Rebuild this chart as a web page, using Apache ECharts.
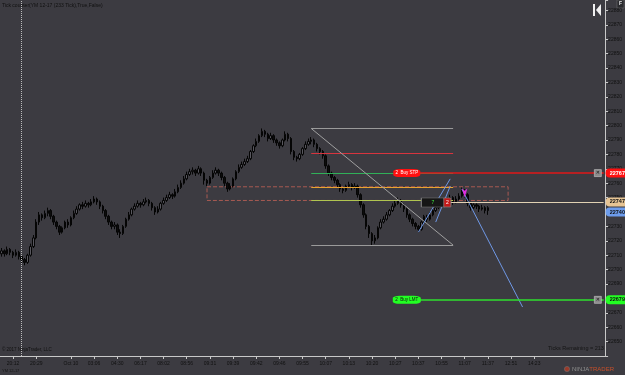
<!DOCTYPE html>
<html>
<head>
<meta charset="utf-8">
<title>YM 12-17 (233 Tick)</title>
<script src="https://cdn.jsdelivr.net/npm/echarts@6/dist/echarts.min.js"></script>
<style>
  html, body { margin: 0; padding: 0; background: #3c3b41; }
  #chart { width: 625px; height: 375px; }
</style>
</head>
<body>
<div id="chart"></div>
<script>
// 233 tick bars, each row: [open, close, low, high]
const bars = [
  [22711, 22713, 22709, 22715], [22713, 22711, 22709, 22714], [22711, 22714, 22710, 22716], [22714, 22712, 22710, 22715],
  [22712, 22710, 22708, 22713], [22710, 22712, 22709, 22714], [22712, 22709, 22707, 22713], [22709, 22707, 22704, 22710],
  [22707, 22705, 22703, 22708], [22705, 22710, 22704, 22711], [22710, 22716, 22709, 22718], [22716, 22722, 22715, 22724],
  [22722, 22733, 22721, 22735], [22733, 22738, 22731, 22740], [22738, 22736, 22734, 22739], [22736, 22739, 22735, 22741],
  [22739, 22741, 22737, 22743], [22741, 22737, 22735, 22742], [22737, 22733, 22731, 22738], [22733, 22730, 22728, 22734],
  [22730, 22726, 22724, 22731], [22726, 22729, 22725, 22730], [22729, 22733, 22728, 22734], [22733, 22731, 22729, 22735],
  [22731, 22736, 22730, 22737], [22736, 22739, 22735, 22741], [22739, 22742, 22738, 22744], [22742, 22745, 22741, 22746],
  [22745, 22744, 22742, 22747], [22744, 22746, 22743, 22748], [22746, 22745, 22743, 22747], [22745, 22747, 22744, 22749],
  [22747, 22749, 22746, 22751], [22749, 22747, 22745, 22750], [22747, 22744, 22742, 22748], [22744, 22741, 22739, 22745],
  [22741, 22737, 22735, 22742], [22737, 22733, 22731, 22738], [22733, 22730, 22728, 22734], [22730, 22731, 22728, 22733],
  [22731, 22726, 22724, 22732], [22726, 22725, 22722, 22728], [22725, 22730, 22724, 22731], [22730, 22735, 22729, 22736],
  [22735, 22738, 22734, 22740], [22738, 22742, 22737, 22743], [22742, 22744, 22741, 22746], [22744, 22746, 22743, 22748],
  [22746, 22745, 22743, 22747], [22745, 22747, 22744, 22749], [22747, 22748, 22746, 22750], [22748, 22746, 22744, 22749],
  [22746, 22743, 22741, 22747], [22743, 22740, 22738, 22744], [22740, 22742, 22739, 22744], [22742, 22746, 22741, 22747],
  [22746, 22748, 22745, 22750], [22748, 22750, 22747, 22752], [22750, 22752, 22749, 22754], [22752, 22751, 22749, 22753],
  [22751, 22754, 22750, 22756], [22754, 22757, 22753, 22759], [22757, 22760, 22756, 22762], [22760, 22763, 22759, 22765],
  [22763, 22766, 22762, 22768], [22766, 22768, 22765, 22770], [22768, 22769, 22766, 22771], [22769, 22767, 22765, 22770],
  [22767, 22770, 22766, 22772], [22770, 22767, 22765, 22771], [22767, 22762, 22759, 22768], [22762, 22760, 22758, 22763],
  [22760, 22764, 22759, 22765], [22764, 22767, 22763, 22769], [22767, 22769, 22766, 22771], [22769, 22767, 22765, 22770],
  [22767, 22764, 22762, 22768], [22764, 22760, 22758, 22765], [22760, 22756, 22754, 22761], [22756, 22758, 22755, 22760],
  [22758, 22763, 22757, 22764], [22763, 22768, 22762, 22769], [22768, 22771, 22767, 22773], [22771, 22773, 22770, 22775],
  [22773, 22775, 22772, 22777], [22775, 22777, 22774, 22779], [22777, 22782, 22776, 22783], [22782, 22786, 22781, 22787],
  [22786, 22789, 22785, 22791], [22789, 22793, 22788, 22794], [22793, 22796, 22792, 22798], [22796, 22794, 22792, 22797],
  [22794, 22791, 22789, 22795], [22791, 22793, 22790, 22795], [22793, 22790, 22788, 22794], [22790, 22788, 22786, 22791],
  [22788, 22786, 22784, 22789], [22786, 22790, 22785, 22791], [22790, 22794, 22789, 22796], [22794, 22791, 22789, 22795],
  [22791, 22782, 22780, 22792], [22782, 22778, 22776, 22783], [22778, 22777, 22775, 22779], [22777, 22780, 22776, 22781],
  [22780, 22784, 22779, 22785], [22784, 22787, 22783, 22789], [22787, 22789, 22786, 22791], [22789, 22790, 22787, 22792],
  [22790, 22787, 22785, 22791], [22787, 22784, 22782, 22788], [22784, 22782, 22780, 22785], [22782, 22779, 22777, 22783],
  [22779, 22772, 22770, 22780], [22772, 22767, 22765, 22773], [22767, 22764, 22762, 22768], [22764, 22762, 22760, 22765],
  [22762, 22759, 22757, 22763], [22759, 22756, 22754, 22760], [22756, 22755, 22753, 22757], [22755, 22758, 22754, 22759],
  [22758, 22759, 22757, 22761], [22759, 22757, 22755, 22760], [22757, 22758, 22756, 22760], [22758, 22752, 22750, 22759],
  [22752, 22745, 22743, 22753], [22745, 22738, 22736, 22746], [22738, 22730, 22728, 22739], [22730, 22725, 22722, 22731],
  [22725, 22720, 22717, 22726], [22720, 22722, 22718, 22724], [22722, 22729, 22721, 22730], [22729, 22733, 22728, 22735],
  [22733, 22735, 22732, 22737], [22735, 22738, 22734, 22740], [22738, 22741, 22737, 22742], [22741, 22744, 22740, 22746],
  [22744, 22746, 22743, 22748], [22746, 22748, 22745, 22750], [22748, 22745, 22743, 22749], [22745, 22742, 22740, 22746],
  [22742, 22738, 22736, 22743], [22738, 22735, 22733, 22739], [22735, 22732, 22730, 22736], [22732, 22730, 22728, 22733],
  [22730, 22728, 22726, 22731], [22728, 22733, 22727, 22734], [22733, 22737, 22732, 22738], [22737, 22735, 22733, 22738],
  [22735, 22738, 22734, 22740], [22738, 22741, 22737, 22742], [22741, 22743, 22740, 22745], [22743, 22745, 22742, 22747],
  [22745, 22748, 22744, 22749], [22748, 22746, 22744, 22749], [22746, 22748, 22745, 22750], [22748, 22750, 22747, 22752],
  [22750, 22747, 22745, 22751], [22747, 22749, 22746, 22751], [22749, 22751, 22748, 22753], [22751, 22755, 22750, 22757],
  [22755, 22752, 22750, 22756], [22752, 22746, 22744, 22753], [22746, 22743, 22741, 22747], [22743, 22745, 22742, 22746],
  [22745, 22744, 22742, 22746], [22744, 22742, 22740, 22745], [22742, 22743, 22741, 22745], [22743, 22741, 22739, 22744],
  [22741, 22743, 22738, 22744]
];

// number of bar slots on the time axis (includes empty space to the right)
const slotCount = 209;

// [slot index, label]
const timeLabels = [
  [4, '20:12'], [12, '20:29'], [24, 'Oct 10'], [32, '03:06'], [40, '04:30'], [48, '06:17'],
  [56, '08:02'], [64, '08:56'], [72, '09:31'], [80, '09:39'], [88, '09:42'], [96, '09:46'],
  [104, '09:55'], [112, '10:07'], [120, '10:13'], [128, '10:20'], [136, '10:27'], [144, '10:37'],
  [152, '10:55'], [160, '11:07'], [168, '11:37'], [176, '12:51'], [184, '14:23']
];

// fibonacci retracement drawn from slot 107 to 156
const fibSlots = [107, 156];
const fibLevels = [22798, 22781, 22767, 22757.5, 22748, 22717];
const fibColors = ['#9a9a9a', '#d8343e', '#30b058', '#e8a430', '#b0c450', '#9a9a9a'];

// dashed zone rectangle: slots and prices
const zoneSlots = [71, 175];
const zonePrices = [22757.5, 22748];

// blue trend lines: [[slot, price], [slot, price]]
const trendLines = [
  [[144, 22726], [155, 22763]],
  [[150, 22733], [155, 22758]],
  [[159, 22756], [180, 22674]]
];

// working orders
const buyStop = 22767;
const buyLimit = 22679;
const avgPrice = 22747;
const lastPrice = 22740;
const sessionBreakSlot = 7;

const categories = [];
for (let i = 0; i < slotCount; i++) categories.push(String(i));
const labelMap = {};
timeLabels.forEach(t => { labelMap[t[0]] = t[1]; });
const showLabel = (index) => labelMap[index] !== undefined;

const font = 'Liberation Sans, Arial, sans-serif';
const lastSlot = slotCount - 1;

const flagLabel = (text, bg, fg) => ({
  show: true,
  position: 'end',
  distance: 2,
  formatter: text,
  backgroundColor: bg,
  color: fg,
  fontSize: 5.5,
  fontWeight: 'bold',
  fontFamily: font,
  padding: [2, 2, 1, 4],
  borderRadius: [4, 1, 1, 4]
});

// two-point segment, each end gets its own copy of the style
const seg = (a, b, color, width, label) => {
  const start = { coord: a, lineStyle: { color: color, width: width, type: 'solid' } };
  const end = { coord: b, lineStyle: { color: color, width: width, type: 'solid' } };
  if (label) { start.label = label; end.label = Object.assign({}, label); }
  return [start, end];
};

const lines = [];
// fib levels + diagonal
fibLevels.forEach((p, i) => {
  lines.push(seg([fibSlots[0], p], [fibSlots[1], p], fibColors[i], 1.2));
});
lines.push(seg([fibSlots[0], fibLevels[0]], [fibSlots[1], fibLevels[5]], '#a0a0a0', 1));
// trend lines
trendLines.forEach(t => {
  lines.push(seg(t[0], t[1], '#6f98e6', 1));
});
// orders and price markers
lines.push(seg([140, buyStop], [lastSlot, buyStop], '#e01818', 1.5, flagLabel(String(buyStop), '#ff1010', '#ffffff')));
lines.push(seg([140, buyLimit], [lastSlot, buyLimit], '#2ee02e', 1.5, flagLabel(String(buyLimit), '#22ff22', '#111111')));
lines.push(seg([155, avgPrice], [lastSlot, avgPrice], '#e2d2b4', 1.2, flagLabel(String(avgPrice), '#e6c494', '#111111')));
lines.push(seg([lastSlot - 1, lastPrice], [lastSlot, lastPrice], 'rgba(0,0,0,0)', 0, flagLabel(String(lastPrice), '#6d9cec', '#111111')));
// session break
lines.push({ xAxis: sessionBreakSlot, lineStyle: { color: '#bdbdbd', type: 'dotted', width: 1 } });

const points = [
  { coord: [140, buyStop], symbol: 'roundRect', symbolSize: [27, 8], itemStyle: { color: '#ff1010' },
    label: { show: true, formatter: '2  Buy STP', color: '#ffffff', fontSize: 4.5, fontFamily: font } },
  { coord: [140, buyLimit], symbol: 'roundRect', symbolSize: [28, 8], itemStyle: { color: '#22ff22' },
    label: { show: true, formatter: '2  Buy LMT', color: '#111111', fontSize: 4.5, fontFamily: font } },
  { coord: [206, buyStop], symbol: 'rect', symbolSize: 7, itemStyle: { color: '#8c8c8c', borderColor: '#dddddd', borderWidth: 0.5 },
    label: { show: true, formatter: '✕', color: '#111111', fontSize: 5, fontFamily: 'DejaVu Sans' } },
  { coord: [206, buyLimit], symbol: 'rect', symbolSize: 7, itemStyle: { color: '#8c8c8c', borderColor: '#dddddd', borderWidth: 0.5 },
    label: { show: true, formatter: '✕', color: '#111111', fontSize: 5, fontFamily: 'DejaVu Sans' } },
  { coord: [149, 22746.6], symbol: 'rect', symbolSize: [23, 9], itemStyle: { color: '#161616', borderColor: '#808080', borderWidth: 0.7 },
    label: { show: true, formatter: '7', color: '#3ee83e', fontSize: 5, fontFamily: font } },
  { coord: [154, 22746.6], symbol: 'rect', symbolSize: [7, 9], itemStyle: { color: '#c41818', borderColor: '#808080', borderWidth: 0.7 },
    label: { show: true, formatter: '2', color: '#ffffff', fontSize: 5, fontFamily: font } },
  { coord: [160, 22750], symbol: 'arrow', symbolRotate: 180, symbolSize: [4, 9], itemStyle: { color: '#e02ee0' },
    label: { show: false } }
];

const chart = echarts.init(document.getElementById('chart'), null, { renderer: 'canvas' });

const option = {
  backgroundColor: '#3c3b41',
  animation: false,
  grid: { left: 0, right: 19, top: 0, bottom: 19, containLabel: false },
  xAxis: {
    type: 'category',
    data: categories,
    boundaryGap: true,
    axisLine: { show: true, lineStyle: { color: '#c8c8c8', width: 1 } },
    axisTick: { show: true, alignWithLabel: true, interval: showLabel, length: 3, lineStyle: { color: '#c8c8c8' } },
    axisLabel: {
      interval: showLabel,
      formatter: (v, i) => labelMap[i] || '',
      color: '#111111',
      fontSize: 5,
      fontFamily: font,
      margin: 5
    },
    splitLine: { show: false }
  },
  yAxis: {
    type: 'value',
    position: 'right',
    min: 22640,
    max: 22887.2,
    interval: 10,
    scale: true,
    axisLine: { show: true, lineStyle: { color: '#c8c8c8', width: 1 } },
    axisTick: { show: true, length: 3, lineStyle: { color: '#c8c8c8' } },
    axisLabel: {
      formatter: v => (Math.abs(v % 10) < 0.01 && v > 22640) ? String(Math.round(v)) : '',
      color: '#111111',
      fontSize: 5,
      fontFamily: font,
      margin: 3
    },
    splitLine: { show: false }
  },
  series: [{
    type: 'candlestick',
    data: bars,
    barWidth: 2,
    itemStyle: {
      color: '#58575e',
      color0: '#0c0c0c',
      borderColor: '#050505',
      borderColor0: '#050505',
      borderWidth: 1
    },
    markArea: {
      silent: true,
      itemStyle: { color: 'rgba(0,0,0,0)', borderColor: '#a85a52', borderWidth: 1, borderType: 'dashed' },
      data: [[{ coord: [zoneSlots[0], zonePrices[0]] }, { coord: [zoneSlots[1], zonePrices[1]] }]]
    },
    markLine: {
      silent: true,
      symbol: 'none',
      label: { show: false },
      data: lines
    },
    markPoint: {
      silent: true,
      data: points
    }
  }],
  graphic: [
    { type: 'text', left: 2, top: 3, style: { text: 'Tick counter(YM 12-17 (233 Tick),True,False)', fill: '#111111', font: '5px ' + font } },
    { type: 'text', left: 2, top: 347, style: { text: '© 2017 NinjaTrader, LLC', fill: '#111111', font: '4.5px ' + font } },
    { type: 'text', left: 548, top: 345, style: { text: 'Ticks Remaining = 213', fill: '#151515', font: '5.5px ' + font } },
    { type: 'text', left: 2, top: 369, style: { text: 'YM 12-17', fill: '#151515', font: '4px ' + font } },
    { type: 'circle', shape: { cx: 567, cy: 369, r: 2.6 }, style: { fill: '#9a3a2a', stroke: '#777', lineWidth: 0.5 } },
    { type: 'text', left: 572, top: 366, style: { text: '{a|NINJA}{b|TRADER}', rich: {
      a: { fill: '#8e8e8e', font: '6px ' + font },
      b: { fill: '#c8502a', font: '6px ' + font }
    } } },
    { type: 'rect', shape: { x: 593, y: 4, width: 2, height: 12 }, style: { fill: '#f0f0f0' } },
    { type: 'polygon', shape: { points: [[596, 10], [601, 4], [601, 16]] }, style: { fill: '#f0f0f0' } },
    { type: 'rect', shape: { x: 617, y: 0, width: 7, height: 8 }, style: { fill: '#2a2a2e', stroke: '#777', lineWidth: 0.5 } },
    { type: 'text', left: 619, top: 1, style: { text: 'F', fill: '#e8e8e8', font: 'bold 5px ' + font } }
  ]
};

chart.setOption(option);
</script>
</body>
</html>
